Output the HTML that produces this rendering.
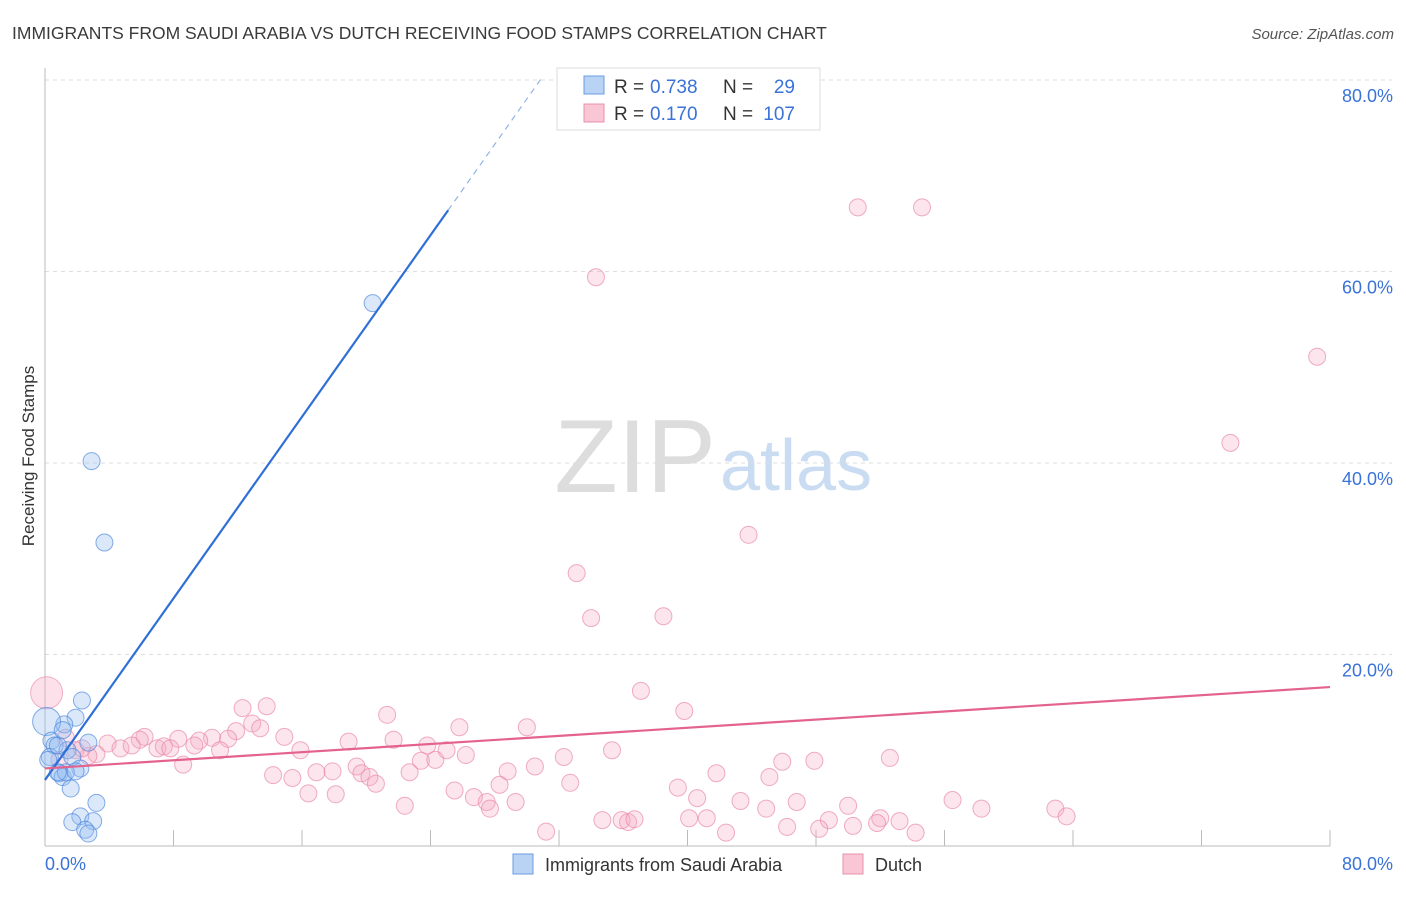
<!DOCTYPE html>
<html><head><meta charset="utf-8"><style>
body{margin:0;background:#fff;font-family:"Liberation Sans",sans-serif}
svg text{font-family:"Liberation Sans",sans-serif}
</style></head><body>
<svg id="chart" width="1406" height="892">
<text x="12" y="39" font-size="17.5" fill="#3a3a3a">IMMIGRANTS FROM SAUDI ARABIA VS DUTCH RECEIVING FOOD STAMPS CORRELATION CHART</text>
<text x="1394" y="39" font-size="15" fill="#555" font-style="italic" text-anchor="end">Source: ZipAtlas.com</text>
<text x="716" y="492" font-size="104" fill="#ddd" text-anchor="end" font-family="Liberation Serif">ZIP</text>
<text x="720" y="490" font-size="72" fill="#c9dcf2">atlas</text>
<g id="grid"></g><g id="axes"></g><g id="marks"></g>
<text transform="translate(34,456) rotate(-90)" font-size="17" fill="#333" text-anchor="middle">Receiving Food Stamps</text>
<g>
<rect x="557" y="68" width="263" height="62" fill="#fff" stroke="#ddd"/>
<rect x="584" y="76" width="20" height="18" fill="#b9d3f5" stroke="#6a9be0"/>
<rect x="584" y="104" width="20" height="18" fill="#f9c6d5" stroke="#e890ab"/>
<text x="614" y="93" font-size="19" fill="#333">R =</text>
<text x="650" y="93" font-size="19" fill="#3a72d8">0.738</text>
<text x="723" y="93" font-size="19" fill="#333">N =</text>
<text x="795" y="93" font-size="19" fill="#3a72d8" text-anchor="end">29</text>
<text x="614" y="120" font-size="19" fill="#333">R =</text>
<text x="650" y="120" font-size="19" fill="#3a72d8">0.170</text>
<text x="723" y="120" font-size="19" fill="#333">N =</text>
<text x="795" y="120" font-size="19" fill="#3a72d8" text-anchor="end">107</text>
</g>
<g>
<rect x="513" y="854" width="20" height="20" fill="#b9d3f5" stroke="#6a9be0"/>
<text x="545" y="871" font-size="18" fill="#333">Immigrants from Saudi Arabia</text>
<rect x="843" y="854" width="20" height="20" fill="#f9c6d5" stroke="#e890ab"/>
<text x="875" y="871" font-size="18" fill="#333">Dutch</text>
</g>
</svg>
<script>
const yTicks=[20,40,60,80];
const xTickLabels=["0.0%","80.0%"];
const blueX=[2.9,3.7,20.4,2.3,1.9,1.2,0.1,0.4,0.6,1.4,2.7,1.7,0.3,2.2,0.9,1.1,1.6,3.2,2.2,1.7,3.0,2.5,2.7,0.8,1.3,0.2,1.9,1.1,0.8];
const blueY=[40.2,31.7,56.7,15.2,13.4,12.7,13.0,11.0,10.5,10.0,10.8,9.3,9.3,8.1,7.6,7.2,6.0,4.5,3.1,2.5,2.6,1.7,1.3,10.5,7.7,9.0,7.8,12.1,7.7];
const pinkX=[50.6,54.6,34.3,79.2,73.8,43.8,33.1,34.0,38.5,37.1,39.8,12.3,13.8,21.3,25.8,30.0,12.9,11.9,13.4,14.9,6.2,8.3,10.4,11.4,9.6,5.9,3.9,4.7,5.4,7.0,7.4,7.8,9.3,10.9,15.9,18.9,21.7,23.8,25.0,26.2,3.2,2.7,1.9,1.3,0.9,2.3,8.6,35.3,32.3,23.4,24.3,19.4,17.9,16.9,14.2,15.4,19.7,20.2,20.6,22.7,28.8,28.3,30.5,32.7,41.8,45.9,47.9,45.1,52.6,16.4,18.1,25.5,26.7,27.5,29.3,22.4,39.4,40.6,43.3,46.8,56.5,58.3,62.9,63.6,44.9,50.0,52.0,34.7,35.9,36.3,36.7,40.1,41.2,48.8,51.8,53.2,31.2,42.4,46.2,48.2,50.3,54.2,27.7];
const pinkY=[66.7,66.7,59.4,51.1,42.1,32.5,28.5,23.8,24.0,16.2,14.1,14.4,14.6,13.7,12.4,12.4,12.8,12.0,12.3,11.4,11.4,11.2,11.3,11.2,11.0,11.1,10.7,10.2,10.5,10.2,10.4,10.2,10.5,10.0,10.0,10.9,11.1,10.5,10.0,9.5,9.6,9.4,10.0,11.3,9.0,10.2,8.5,10.0,9.3,8.9,9.0,8.3,7.8,7.7,7.4,7.1,7.6,7.2,6.5,7.7,7.8,6.4,8.3,6.6,7.6,8.8,8.9,7.2,9.2,5.5,5.4,5.8,5.1,4.6,4.6,4.2,6.1,5.0,4.7,4.6,4.8,3.9,3.9,3.1,3.9,4.2,2.9,2.7,2.7,2.5,2.8,2.9,2.9,2.7,2.4,2.6,1.5,1.4,2.0,1.8,2.1,1.4,3.9];
const blueLine=[0,6.9,25.1,66.4,31.0,80.4];
const pinkLine=[0,8.1,80,16.6];
const NS="http://www.w3.org/2000/svg";
const X=v=>45+v/80*1285, Y=v=>846-v/20*191.5;
function mk(t,a,p){const e=document.createElementNS(NS,t);for(const k in a)e.setAttribute(k,a[k]);p.appendChild(e);return e;}
const grid=document.getElementById('grid'),axes=document.getElementById('axes'),marks=document.getElementById('marks');
yTicks.forEach(t=>{
 const l=mk('line',{x1:45,x2:1392,y1:Y(t),y2:Y(t),stroke:'#ddd','stroke-dasharray':'4,4'},grid);
 
 
 const tx=mk('text',{x:1393,y:Y(t)+22,'font-size':18,fill:'#3a72d8','text-anchor':'end'},grid);
 tx.textContent=t.toFixed(1)+'%';
 
 
});
const ya=mk('line',{x1:45,x2:45,y1:68,y2:846,stroke:'#bbb'},axes);


const xa=mk('line',{x1:45,x2:1330,y1:846,y2:846,stroke:'#bbb'},axes);


for(let i=1;i<=10;i++){const t=mk('line',{x1:X(i*8),x2:X(i*8),y1:830,y2:846,stroke:'#bbb'},axes);
 
 }
[[0,'start',45],[80,'end',1393]].forEach((d,i)=>{const t=mk('text',{x:d[2],y:870,'font-size':18,fill:'#3a72d8','text-anchor':d[1]},axes);t.textContent=xTickLabels[i];
 
 });
const pb=mk('circle',{cx:X(0.1),cy:Y(16.0),r:16,fill:'rgba(246,170,195,0.35)',stroke:'rgba(232,130,165,0.6)'},marks);


pinkX.forEach((x,i)=>{const c=mk('circle',{cx:X(x),cy:Y(pinkY[i]),r:8.5,fill:'rgba(246,170,195,0.3)',stroke:'rgba(232,130,165,0.65)'},marks);
 
 });
blueX.forEach((x,i)=>{const c=mk('circle',{cx:X(x),cy:Y(blueY[i]),r:i==6?14:8.5,fill:'rgba(150,190,240,0.35)',stroke:'rgba(70,130,220,0.65)'},marks);
 
 });
const bl=mk('line',{x1:X(blueLine[0]),y1:Y(blueLine[1]),x2:X(blueLine[2]),y2:Y(blueLine[3]),stroke:'#2f6fd6','stroke-width':2.2},marks);


const bd=mk('line',{x1:X(blueLine[2]),y1:Y(blueLine[3]),x2:X(blueLine[4]),y2:Y(blueLine[5]),stroke:'#8fb2e8','stroke-width':1.2,'stroke-dasharray':'6,5'},marks);


const pl=mk('line',{x1:X(pinkLine[0]),y1:Y(pinkLine[1]),x2:X(pinkLine[2]),y2:Y(pinkLine[3]),stroke:'#e4628e','stroke-width':2.2},marks);


</script>
</body></html>
